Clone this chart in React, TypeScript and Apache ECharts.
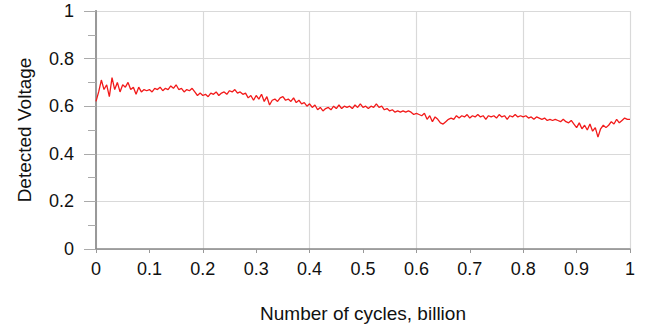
import React, { useEffect, useRef } from "react";
import * as echarts from "echarts";

const xStep = 0.005;
const voltage = [
  0.62, 0.66, 0.71, 0.67, 0.69, 0.64, 0.72, 0.67, 0.70, 0.66,
  0.69, 0.68, 0.70, 0.67, 0.68, 0.65, 0.68, 0.66, 0.67, 0.665,
  0.67, 0.66, 0.675, 0.67, 0.68, 0.665, 0.675, 0.67, 0.685, 0.675,
  0.69, 0.67, 0.675, 0.66, 0.67, 0.665, 0.675, 0.66, 0.645, 0.655,
  0.645, 0.65, 0.64, 0.655, 0.65, 0.66, 0.645, 0.655, 0.66, 0.65,
  0.665, 0.66, 0.67, 0.655, 0.66, 0.65, 0.655, 0.635, 0.645, 0.625,
  0.645, 0.63, 0.65, 0.62, 0.64, 0.605, 0.625, 0.63, 0.62, 0.635,
  0.64, 0.625, 0.63, 0.62, 0.635, 0.615, 0.625, 0.61, 0.615, 0.60,
  0.61, 0.595, 0.605, 0.585, 0.595, 0.58, 0.59, 0.595, 0.585, 0.60,
  0.59, 0.605, 0.59, 0.60, 0.595, 0.60, 0.59, 0.605, 0.595, 0.61,
  0.595, 0.60, 0.59, 0.60, 0.595, 0.61, 0.595, 0.60, 0.585, 0.59,
  0.58, 0.585, 0.575, 0.58, 0.575, 0.58, 0.575, 0.58, 0.575, 0.565,
  0.57, 0.565, 0.56, 0.57, 0.545, 0.56, 0.535, 0.555, 0.545, 0.53,
  0.525, 0.535, 0.545, 0.55, 0.545, 0.56, 0.55, 0.56, 0.555, 0.565,
  0.55, 0.56, 0.555, 0.565, 0.555, 0.56, 0.545, 0.56, 0.555, 0.56,
  0.55, 0.565, 0.555, 0.56, 0.545, 0.56, 0.555, 0.565, 0.555, 0.56,
  0.555, 0.56, 0.55, 0.555, 0.545, 0.555, 0.55, 0.545, 0.55, 0.54,
  0.545, 0.54, 0.545, 0.54, 0.535, 0.545, 0.535, 0.53, 0.54, 0.525,
  0.51, 0.53, 0.505, 0.52, 0.50, 0.525, 0.495, 0.51, 0.47, 0.505,
  0.52, 0.51, 0.52, 0.535, 0.525, 0.545, 0.53, 0.54, 0.55, 0.545,
  0.545,
];
const xLabelInterval = 0.1;
const gridInterval = 0.2;
const yInterval = 0.2;
const xName = "Number of cycles, billion";
const yName = "Detected Voltage";

export default function App() {
  const ref = useRef<HTMLDivElement>(null);
  useEffect(() => {
    if (!ref.current) return;
    const chart = echarts.init(ref.current, undefined, { renderer: "svg" });
    const data = voltage.map((v, i) => [Number((i * xStep).toFixed(3)), v]);
    const font = "Liberation Sans, Arial, sans-serif";
    chart.setOption({
      animation: false,
      backgroundColor: "#fff",
      grid: { left: 96, right: 32, top: 11, bottom: 78 },
      xAxis: [
        {
          type: "value",
          min: 0,
          max: 1,
          interval: xLabelInterval,
          name: xName,
          nameLocation: "middle",
          nameGap: 55,
          nameTextStyle: { fontSize: 19, color: "#111", fontFamily: font },
          axisLine: { show: true, lineStyle: { color: "#888", width: 1.5 } },
          axisTick: { show: true, length: 4, lineStyle: { color: "#999" } },
          axisLabel: {
            fontSize: 18,
            color: "#111",
            fontFamily: font,
            margin: 11,
            formatter: (v: number) => String(Number(v.toFixed(1))),
          },
          splitLine: { show: false },
        },
        {
          type: "value",
          min: 0,
          max: 1,
          interval: gridInterval,
          position: "bottom",
          axisLine: { show: false },
          axisTick: { show: false },
          axisLabel: { show: false },
          splitLine: { show: true, lineStyle: { color: "#d9d9d9", width: 1.2 } },
        },
      ],
      yAxis: [
        {
          type: "value",
          min: 0,
          max: 1,
          interval: yInterval,
          name: yName,
          nameLocation: "middle",
          nameGap: 62,
          nameTextStyle: { fontSize: 19, color: "#111", fontFamily: font },
          axisLine: { show: true, lineStyle: { color: "#888", width: 1.5 } },
          axisTick: { show: true, length: 12, lineStyle: { color: "#aaa" } },
          minorTick: { show: true, splitNumber: 2, length: 8, lineStyle: { color: "#aaa" } },
          axisLabel: {
            fontSize: 18,
            color: "#111",
            fontFamily: font,
            margin: 22,
            formatter: (v: number) => String(Number(v.toFixed(1))),
          },
          splitLine: { show: true, lineStyle: { color: "#d9d9d9", width: 1.2 } },
        },
        {
          type: "value",
          min: 0,
          max: 1,
          position: "right",
          axisLine: { show: true, lineStyle: { color: "#999", width: 2 } },
          axisTick: { show: false },
          axisLabel: { show: false },
          splitLine: { show: false },
        },
      ],
      series: [
        {
          type: "line",
          xAxisIndex: 0,
          yAxisIndex: 0,
          data,
          showSymbol: false,
          symbol: "none",
          lineStyle: { color: "#f21a1a", width: 1.3 },
        },
      ],
    });
    return () => chart.dispose();
  }, []);
  return (
    <div
      ref={ref}
      style={{ position: "absolute", left: 0, top: 0, width: 662, height: 328 }}
    />
  );
}
